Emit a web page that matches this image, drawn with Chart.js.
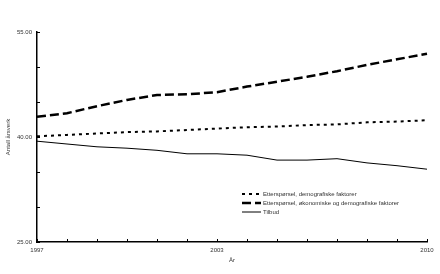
<!DOCTYPE html>
<html>
<head>
<script src="https://cdn.jsdelivr.net/npm/chart.js@4.4.0/dist/chart.umd.min.js"></script>
<style>
  html, body { margin: 0; padding: 0; background: #fff; }
</style>
</head>
<body>
<canvas id="myChart" width="440" height="274"></canvas>
<script>
  // years on the x axis, only some of them get a label
  const years = ['1997', '1998', '1999', '2000', '2001', '2002', '2003', '2004', '2005', '2006', '2007', '2008', '2009', '2010'];
  const labeledYears = ['1997', '2003', '2010'];
  const yLabeled = [25, 40, 55];

  // antall årsverk
  const demografi = [40.1, 40.3, 40.5, 40.7, 40.8, 41.0, 41.2, 41.4, 41.5, 41.7, 41.8, 42.1, 42.2, 42.4];
  const okonomi = [42.9, 43.4, 44.4, 45.3, 46.0, 46.1, 46.4, 47.2, 47.9, 48.6, 49.4, 50.3, 51.1, 51.9];
  const tilbud = [39.4, 39.0, 38.6, 38.4, 38.1, 37.6, 37.6, 37.4, 36.7, 36.7, 36.9, 36.3, 35.9, 35.4];

  const seriesNames = [
    'Etterspørsel, demografiske faktorer',
    'Etterspørsel, økonomiske og demografiske faktorer',
    'Tilbud'
  ];

  const FONT = { family: '"Liberation Sans", Arial, sans-serif', size: 6 };
  const TXT = '#333';

  // ticks pointing into the plot + legend box in lower right
  const extras = {
    id: 'extras',
    afterDraw(chart) {
      const { ctx, chartArea, scales } = chart;
      const x = scales.x, y = scales.y;
      ctx.save();
      ctx.strokeStyle = '#000';
      ctx.lineWidth = 1;
      x.ticks.forEach((t, i) => {
        const px = Math.round(x.getPixelForTick(i)) + 0.5;
        ctx.beginPath();
        ctx.moveTo(px, chartArea.bottom);
        ctx.lineTo(px, chartArea.bottom - 3);
        ctx.stroke();
      });
      y.ticks.forEach((t, i) => {
        const py = Math.round(y.getPixelForTick(i)) + 0.5;
        ctx.beginPath();
        ctx.moveTo(chartArea.left, py);
        ctx.lineTo(chartArea.left + 3, py);
        ctx.stroke();
      });

      // legend
      const lx = chartArea.left + 205;
      let ly = chartArea.bottom - 48;
      ctx.font = FONT.size + 'px ' + FONT.family;
      ctx.fillStyle = TXT;
      ctx.textBaseline = 'middle';
      chart.data.datasets.forEach(ds => {
        ctx.beginPath();
        ctx.setLineDash(ds.borderDash || []);
        ctx.lineWidth = ds.borderWidth;
        ctx.strokeStyle = ds.borderColor;
        ctx.moveTo(lx, ly);
        ctx.lineTo(lx + 19, ly);
        ctx.stroke();
        ctx.setLineDash([]);
        ctx.fillText(ds.label, lx + 21, ly);
        ly += 9;
      });
      ctx.restore();
    }
  };

  new Chart('myChart', {
    type: 'line',
    data: {
      labels: years,
      datasets: [
        { label: seriesNames[0], data: demografi, borderColor: '#000', borderWidth: 2, borderDash: [3, 4], pointRadius: 0, fill: false, tension: 0 },
        { label: seriesNames[1], data: okonomi, borderColor: '#000', borderWidth: 2.5, borderDash: [9, 4], pointRadius: 0, fill: false, tension: 0 },
        { label: seriesNames[2], data: tilbud, borderColor: '#000', borderWidth: 1, pointRadius: 0, fill: false, tension: 0 }
      ]
    },
    options: {
      responsive: false,
      animation: false,
      layout: { padding: { left: 0, right: 13, top: 32, bottom: 10 } },
      plugins: { legend: { display: false }, tooltip: { enabled: false } },
      scales: {
        x: {
          offset: false,
          grid: { display: true, drawOnChartArea: false, drawTicks: false },
          border: { display: true, color: '#000', width: 1.5 },
          ticks: {
            autoSkip: false, maxRotation: 0, padding: 5, color: TXT, font: FONT,
            callback: (v, i) => labeledYears.includes(years[i]) ? years[i] : ''
          },
          title: { display: true, text: 'År', color: TXT, font: FONT, padding: { top: 2, bottom: 0 } },
          afterFit: s => { s.height = 22; }
        },
        y: {
          min: 25, max: 55,
          grid: { display: true, drawOnChartArea: false, drawTicks: false },
          border: { display: true, color: '#000', width: 1.5 },
          ticks: {
            stepSize: 5, padding: 5, color: TXT, font: FONT,
            callback: v => yLabeled.includes(v) ? v.toFixed(2) : ''
          },
          title: { display: true, text: 'Antall årsverk', color: TXT, font: FONT, padding: { top: 5, bottom: 0 } },
          afterFit: s => { s.width = 37; }
        }
      }
    },
    plugins: [extras]
  });
</script>
</body>
</html>
